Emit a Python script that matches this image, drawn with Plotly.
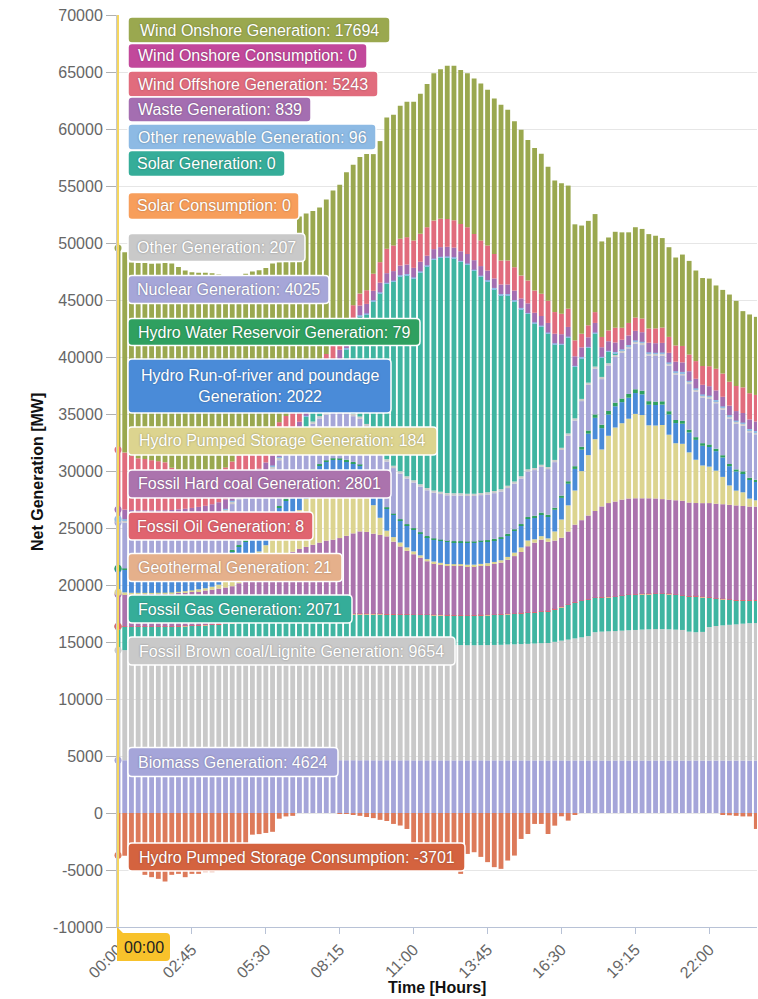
import plotly.graph_objects as go

# quarter-hour categories
times = [
    "00:00", "00:15", "00:30", "00:45", "01:00", "01:15", "01:30", "01:45",
    "02:00", "02:15", "02:30", "02:45", "03:00", "03:15", "03:30", "03:45",
    "04:00", "04:15", "04:30", "04:45", "05:00", "05:15", "05:30", "05:45",
    "06:00", "06:15", "06:30", "06:45", "07:00", "07:15", "07:30", "07:45",
    "08:00", "08:15", "08:30", "08:45", "09:00", "09:15", "09:30", "09:45",
    "10:00", "10:15", "10:30", "10:45", "11:00", "11:15", "11:30", "11:45",
    "12:00", "12:15", "12:30", "12:45", "13:00", "13:15", "13:30", "13:45",
    "14:00", "14:15", "14:30", "14:45", "15:00", "15:15", "15:30", "15:45",
    "16:00", "16:15", "16:30", "16:45", "17:00", "17:15", "17:30", "17:45",
    "18:00", "18:15", "18:30", "18:45", "19:00", "19:15", "19:30", "19:45",
    "20:00", "20:15", "20:30", "20:45", "21:00", "21:15", "21:30", "21:45",
    "22:00", "22:15", "22:30", "22:45", "23:00", "23:15", "23:30", "23:45",
]
tick_labels = ["00:00", "02:45", "05:30", "08:15", "11:00", "13:45", "16:30", "19:15", "22:00"]
y_ticks = [-10000, -5000, 0, 5000, 10000, 15000, 20000, 25000, 30000, 35000,
           40000, 45000, 50000, 55000, 60000, 65000, 70000]
y_tick_text = ["-10000", "-5000", "0", "5000", "10000", "15000", "20000", "25000", "30000",
               "35000", "40000", "45000", "50000", "55000", "60000", "65000", "70000"]

biomass = [
    4624, 4626, 4621, 4623, 4620, 4618, 4622, 4619, 4617, 4621, 4616, 4618, 4620, 4615, 4617, 4619,
    4622, 4625, 4628, 4624, 4627, 4630, 4626, 4629, 4631, 4628, 4632, 4630, 4627, 4629, 4633, 4631,
    4628, 4630, 4626, 4629, 4625, 4627, 4624, 4622, 4626, 4623, 4621, 4625, 4620, 4622, 4619, 4621,
    4618, 4620, 4617, 4619, 4616, 4618, 4621, 4617, 4619, 4615, 4618, 4616, 4614, 4617, 4613, 4615,
    4612, 4616, 4614, 4611, 4613, 4610, 4614, 4612, 4609, 4611, 4608, 4612, 4610, 4607, 4609, 4606,
    4610, 4608, 4605, 4607, 4604, 4608, 4606, 4603, 4605, 4602, 4606, 4604, 4601, 4603, 4600, 4602,
]
brown_coal = [
    9654, 9662, 9668, 9681, 9690, 9697, 9703, 9711, 9699, 9722, 9728, 9743, 9751, 9758, 9772, 9779,
    9802, 9818, 9843, 9857, 9884, 9898, 9921, 9942, 9958, 9983, 9997, 10024, 10038, 10062, 10079, 10103,
    10118, 10142, 10149, 10163, 10168, 10172, 10170, 10167, 10162, 10158, 10151, 10148, 10142, 10139, 10132, 10128,
    10121, 10118, 10112, 10109, 10101, 10098, 10103, 10111, 10122, 10138, 10161, 10179, 10203, 10218, 10252, 10279,
    10302, 10398, 10503, 10597, 10702, 10798, 10903, 11248, 11302, 11328, 11352, 11379, 11421, 11448, 11482, 11499,
    11521, 11518, 11502, 11479, 11452, 11298, 11251, 11282, 11698, 11802, 11848, 11903, 11948, 12002, 12048, 12061,
]
fossil_gas = [
    2071, 2062, 2048, 2041, 2033, 2028, 2021, 2019, 2032, 2038, 2052, 2061, 2079, 2102, 2118, 2151,
    2178, 2222, 2258, 2303, 2338, 2381, 2419, 2462, 2498, 2531, 2558, 2582, 2601, 2609, 2622, 2628,
    2641, 2638, 2642, 2651, 2648, 2652, 2649, 2651, 2638, 2642, 2628, 2631, 2619, 2622, 2618, 2611,
    2608, 2602, 2598, 2601, 2599, 2612, 2618, 2632, 2639, 2652, 2658, 2681, 2698, 2722, 2739, 2761,
    2778, 2852, 2948, 3052, 3148, 3202, 3198, 3002, 2998, 3003, 2997, 3052, 3098, 3102, 3099, 3101,
    3102, 3098, 3101, 3048, 3002, 3099, 3152, 3048, 2602, 2398, 2302, 2198, 2102, 2048, 2002, 1998,
]
geothermal = [
    21, 21, 20, 21, 22, 21, 21, 20, 21, 21, 22, 21, 20, 21, 21, 22,
    21, 20, 21, 21, 22, 21, 20, 21, 21, 21, 22, 21, 20, 21, 21, 22,
    21, 21, 20, 21, 21, 22, 21, 20, 21, 21, 21, 22, 21, 20, 21, 21,
    22, 21, 21, 20, 21, 21, 22, 21, 20, 21, 21, 21, 22, 21, 20, 21,
    21, 22, 21, 21, 20, 21, 21, 22, 21, 20, 21, 21, 22, 21, 21, 20,
    21, 21, 22, 21, 20, 21, 21, 22, 21, 21, 20, 21, 22, 21, 21, 20,
]
fossil_oil = [
    8, 8, 8, 7, 8, 8, 9, 8, 8, 8, 7, 8, 8, 8, 9, 8,
    8, 7, 8, 8, 8, 9, 8, 8, 8, 7, 8, 8, 9, 8, 8, 8,
    7, 8, 8, 8, 9, 8, 8, 7, 8, 8, 8, 9, 8, 8, 8, 7,
    8, 8, 9, 8, 8, 8, 7, 8, 8, 8, 9, 8, 8, 7, 8, 8,
    8, 9, 8, 8, 7, 8, 8, 8, 9, 8, 8, 8, 7, 8, 8, 9,
    8, 8, 8, 7, 8, 8, 9, 8, 8, 8, 7, 8, 8, 8, 9, 8,
]
hard_coal = [
    2801, 2812, 2818, 2831, 2842, 2849, 2861, 2868, 2882, 2899, 2921, 2948, 2982, 3011, 3048, 3102,
    3149, 3202, 3398, 3701, 3998, 4302, 4598, 4901, 5198, 5452, 5698, 5902, 6048, 6201, 6352, 6498,
    6561, 6679, 6872, 7058, 7231, 7178, 7032, 6928, 6812, 6348, 5951, 5562, 5288, 4991, 4688, 4512,
    4418, 4332, 4338, 4342, 4301, 4288, 4331, 4362, 4438, 4532, 4748, 5031, 5352, 5818, 6082, 6298,
    6071, 5998, 6052, 6398, 6802, 7048, 7352, 7598, 7951, 8218, 8332, 8418, 8431, 8422, 8388, 8371,
    8329, 8282, 8248, 8271, 8302, 8198, 8151, 8219, 8252, 8298, 8302, 8299, 8301, 8248, 8202, 8188,
]
pumped_gen = [
    184, 162, 131, 108, 96, 84, 81, 79, 86, 94, 112, 129, 161, 198, 262, 348,
    502, 1098, 1252, 1301, 1498, 1702, 1898, 2101, 2498, 2802, 3098, 3402, 4198, 4502, 4798, 4951,
    5048, 4902, 4598, 4201, 3798, 3202, 2498, 1502, 498, 402, 348, 301, 252, 198, 182, 158,
    151, 139, 131, 128, 132, 141, 149, 162, 178, 202, 248, 302, 398, 502, 298, 302,
    298, 802, 1598, 2302, 2998, 4302, 5298, 6302, 4998, 5902, 6498, 6702, 6998, 7402, 7298, 6402,
    6398, 6502, 5698, 5002, 4998, 4402, 3798, 3302, 3198, 2902, 2398, 1702, 1298, 1202, 698, 552,
]
run_of_river = [
    2022, 2019, 2018, 2014, 2013, 2009, 2011, 2007, 2005, 2004, 2001, 1999, 1998, 1994, 1996, 1991,
    1989, 1988, 1986, 1984, 1982, 1981, 1979, 1978, 1976, 1974, 1972, 1971, 1969, 1968, 1966, 1964,
    1961, 1959, 1960, 1957, 1956, 1954, 1951, 1949, 1950, 1947, 1946, 1944, 1941, 1939, 1940, 1937,
    1936, 1934, 1931, 1929, 1930, 1927, 1926, 1924, 1921, 1919, 1920, 1917, 1916, 1914, 1911, 1909,
    1904, 1901, 1899, 1894, 1891, 1884, 1881, 1874, 1871, 1864, 1861, 1849, 1841, 1829, 1821, 1809,
    1801, 1789, 1781, 1769, 1761, 1749, 1741, 1729, 1721, 1709, 1701, 1689, 1681, 1669, 1661, 1649,
]
water_reservoir = [
    79, 78, 76, 75, 74, 72, 73, 70, 71, 72, 74, 77, 78, 81, 85, 90,
    96, 101, 109, 116, 119, 126, 131, 134, 141, 139, 142, 138, 136, 129, 126, 119,
    121, 114, 116, 109, 111, 104, 106, 99, 101, 98, 96, 94, 95, 91, 89, 90,
    91, 89, 90, 88, 96, 94, 101, 99, 106, 109, 116, 121, 129, 141, 149, 161,
    171, 179, 201, 219, 241, 259, 281, 299, 302, 309, 321, 318, 331, 329, 321, 309,
    301, 289, 281, 269, 261, 249, 241, 229, 221, 209, 201, 189, 181, 169, 161, 149,
]
nuclear = [
    4025, 4025, 4024, 4024, 4023, 4023, 4022, 4022, 4021, 4021, 4020, 4020, 4020, 4019, 4019, 4018,
    4018, 4017, 4017, 4016, 4016, 4015, 4015, 4014, 4014, 4013, 4013, 4012, 4012, 4011, 4011, 4010,
    4010, 4011, 4009, 4010, 4010, 4012, 4009, 4010, 4011, 4010, 4009, 4010, 4008, 4010, 4011, 4009,
    4006, 4005, 4004, 4006, 4005, 4004, 4005, 4006, 4004, 4005, 4005, 4006, 4004, 4005, 4006, 4004,
    4001, 4000, 3999, 4001, 4000, 3999, 4000, 4001, 3999, 4000, 4001, 4000, 3999, 4000, 4001, 3999,
    3996, 3995, 3994, 3996, 3995, 3994, 3995, 3996, 3994, 3995, 3996, 3995, 3994, 3995, 3996, 3994,
]
other_gen = [
    207, 206, 206, 205, 205, 205, 204, 204, 204, 203, 203, 203, 202, 202, 202, 201,
    201, 201, 200, 200, 200, 199, 199, 199, 198, 198, 198, 197, 197, 197, 196, 196,
    196, 197, 196, 195, 196, 197, 196, 196, 195, 196, 197, 196, 196, 195, 196, 196,
    195, 194, 195, 196, 195, 194, 195, 195, 196, 195, 194, 195, 195, 196, 195, 194,
    193, 194, 193, 192, 193, 194, 193, 193, 192, 193, 194, 193, 193, 192, 193, 193,
    190, 191, 190, 189, 190, 191, 190, 190, 189, 190, 191, 190, 190, 189, 190, 190,
]
solar_cons = [0] * 96
solar = [
    0, 0, 0, 0, 0, 0, 0, 0, 0, 0, 0, 0, 0, 0, 0, 0,
    0, 0, 0, 0, 0, 0, 0, 0, 10, 50, 200, 500, 900, 1400, 2000, 2700,
    3500, 4400, 5500, 7508, 8801, 9596, 11611, 13436, 15396, 16148, 17106, 17636, 17696, 18586, 19446, 20243,
    20527, 20667, 20612, 20297, 20097, 19554, 18962, 18512, 17712, 17032, 16727, 15814, 14667, 13612, 12672, 12112,
    11694, 10139, 9029, 8404, 4514, 3584, 3049, 2894, 1669, 994, 150, 30, 0, 0, 0, 0,
    0, 0, 0, 0, 0, 0, 0, 0, 0, 0, 0, 0, 0, 0, 0, 0,
]
other_renew = [
    96, 95, 97, 96, 94, 95, 96, 97, 95, 96, 94, 96, 95, 97, 96, 95,
    94, 96, 95, 97, 96, 95, 94, 96, 97, 95, 96, 94, 95, 96, 97, 96,
    95, 94, 96, 95, 97, 96, 95, 94, 96, 95, 97, 96, 95, 94, 96, 95,
    97, 96, 95, 94, 96, 95, 97, 96, 95, 94, 96, 95, 97, 96, 95, 94,
    96, 95, 97, 96, 95, 94, 96, 95, 97, 96, 95, 94, 96, 95, 97, 96,
    95, 94, 96, 95, 97, 96, 95, 94, 96, 95, 97, 96, 95, 94, 96, 95,
]
waste = [
    839, 838, 840, 837, 839, 841, 838, 836, 839, 840, 838, 837, 839, 841, 840, 838,
    837, 839, 840, 838, 836, 839, 841, 839, 838, 837, 839, 840, 838, 836, 839, 841,
    839, 838, 837, 839, 840, 838, 836, 839, 841, 839, 838, 837, 839, 840, 838, 836,
    839, 841, 839, 838, 837, 839, 840, 838, 836, 839, 841, 839, 838, 837, 839, 840,
    838, 836, 839, 841, 839, 838, 837, 839, 840, 838, 836, 839, 841, 839, 838, 837,
    839, 840, 838, 836, 839, 841, 839, 838, 837, 839, 840, 838, 836, 839, 841, 839,
]
wind_offshore = [
    5243, 5000, 4750, 4550, 4500, 4400, 4300, 4200, 3700, 3500, 3350, 3200, 3100, 3000, 2950, 2900,
    2800, 2600, 2700, 2700, 2600, 2500, 2400, 2300, 2200, 2100, 2000, 1900, 1800, 1700, 1600, 1500,
    1400, 1300, 1200, 1100, 1050, 1200, 1500, 1800, 2150, 2250, 2350, 2400, 2400, 2450, 2500, 2500,
    2480, 2450, 2400, 2400, 2350, 2300, 2250, 2200, 2150, 2100, 2100, 2050, 2000, 2000, 1950, 1950,
    1950, 1900, 1800, 1600, 1400, 1200, 1050, 950, 900, 950, 1300, 1050, 1100, 1170, 1200, 1250,
    1300, 1350, 1400, 1420, 1440, 1460, 1550, 1650, 1750, 1900, 2040, 2100, 2200, 2250, 2300, 2330,
]
wind_on_cons = [0] * 96
wind_onshore = [
    17694, 17568, 16968, 17133, 17193, 17237, 17344, 17478, 17917, 17746, 17555, 17483, 17444, 17446, 17311, 17083,
    16828, 16216, 15750, 15536, 15274, 14913, 14648, 14586, 14015, 13576, 13029, 16093, 15108, 14436, 13764, 13541,
    13456, 13171, 13371, 12310, 11990, 11950, 10490, 10620, 11500, 11460, 11680, 11890, 12175, 12290, 12560, 12925,
    13130, 13430, 13550, 13510, 13510, 13640, 13775, 13660, 13640, 13675, 13225, 12810, 12790, 12325, 12500, 12290,
    11750, 11550, 11440, 10800, 10175, 9490, 9160, 8600, 8380, 8150, 8409, 8369, 7949, 7919, 7859, 8279,
    8127, 7847, 7867, 7717, 8017, 8217, 7947, 7717, 7687, 7307, 7337, 7647, 7467, 6687, 6907, 6847,
]
pumped_cons = [
    -3701, -3750, -4400, -4800, -5425, -5630, -5775, -6010, -5425, -5340, -5630, -5340, -5340, -5190, -5190, -4700,
    -4400, -4000, -3600, -3100, -1900, -1850, -1750, -1650, -500, -300, -250, 0, 0, 0, 0, 0,
    0, -50, -80, -150, -250, -350, -450, -600, -700, -960, -1100, -1400, -2600, -2800, -3000, -3300,
    -3600, -3900, -4200, -5340, -3590, -3440, -3850, -4310, -4750, -4900, -4170, -3735, -2275, -1840, -960, -960,
    -1840, -1110, -290, -670, -150, 0, 0, 0, 0, 0, 0, 0, 0, 0, 0, 0,
    0, 0, 0, 0, 0, 0, 0, 0, 0, 0, -150, -200, -250, -300, -300, -1400,
]

# stack order, bottom to top
series = [
    ("Biomass Generation", biomass, "#a5a5d9"),
    ("Fossil Brown coal/Lignite Generation", brown_coal, "#c9c9c9"),
    ("Fossil Gas Generation", fossil_gas, "#3fb5a1"),
    ("Geothermal Generation", geothermal, "#e5b08b"),
    ("Fossil Oil Generation", fossil_oil, "#e0646f"),
    ("Fossil Hard coal Generation", hard_coal, "#ab73ad"),
    ("Hydro Pumped Storage Generation", pumped_gen, "#dcd48f"),
    ("Hydro Run-of-river and poundage Generation", run_of_river, "#4a8bd8"),
    ("Hydro Water Reservoir Generation", water_reservoir, "#2fa060"),
    ("Nuclear Generation", nuclear, "#a6a6d8"),
    ("Other Generation", other_gen, "#c9c9c9"),
    ("Solar Consumption", solar_cons, "#f79e5b"),
    ("Solar Generation", solar, "#3fb5a1"),
    ("Other renewable Generation", other_renew, "#8dbae4"),
    ("Waste Generation", waste, "#a46eb1"),
    ("Wind Offshore Generation", wind_offshore, "#e16c7d"),
    ("Wind Onshore Consumption", wind_on_cons, "#c2489b"),
    ("Wind Onshore Generation", wind_onshore, "#9aa84f"),
    ("Hydro Pumped Storage Consumption", pumped_cons, "#dd7a5a"),
]

fig = go.Figure()
for name, vals, color in series:
    fig.add_trace(go.Bar(x=times, y=vals, name=name,
                         marker=dict(color=color, line=dict(width=0))))

# hover dots of the shared tooltip at 00:00 (top of each stacked segment)
dot_y, dot_c, run = [], [], 0
for name, vals, color in series:
    if vals[0] < 0:
        dot_y.append(vals[0])
    else:
        run += vals[0]
        if vals[0] == 0:
            continue
        dot_y.append(run)
    dot_c.append(color)
fig.add_trace(go.Scatter(x=[times[0]] * len(dot_y), y=dot_y, mode="markers",
                         cliponaxis=False, hoverinfo="skip",
                         marker=dict(size=7, color=dot_c, line=dict(width=0))))

# plot box in pixels
PL, PR, PT, PB = 117, 757, 15, 927
W, H = 758, 999


def py(ypix):
    return (PB - ypix) / (PB - PT)


def px_(xpix):
    return (xpix - PL) / (PR - PL)


def rounded_box(x0, x1, y0, y1, r=4):
    # rounded rectangle path in paper coords from pixel corners
    X = [px_(v) for v in (x0, x0 + r, x1 - r, x1)]
    Y = [py(v) for v in (y0, y0 + r, y1 - r, y1)]
    return (f"M{X[1]},{Y[0]} L{X[2]},{Y[0]} Q{X[3]},{Y[0]} {X[3]},{Y[1]} "
            f"L{X[3]},{Y[2]} Q{X[3]},{Y[3]} {X[2]},{Y[3]} L{X[1]},{Y[3]} "
            f"Q{X[0]},{Y[3]} {X[0]},{Y[2]} L{X[0]},{Y[1]} Q{X[0]},{Y[0]} {X[1]},{Y[0]} Z")


# tooltip labels, top to bottom: (center y px, box width px, box height px)
tip_order = [17, 16, 15, 14, 13, 12, 11, 10, 9, 8, 7, 6, 5, 4, 3, 2, 1, 0, 18]
tip_boxes = [
    (30, 262, 26), (56, 239, 25), (84, 250, 26), (109.5, 183, 25), (137, 248, 26),
    (163.5, 157, 26), (206, 171, 27), (247.5, 177, 28), (289.5, 201, 28), (332, 292, 27),
    (386, 263, 54), (441, 309, 28), (484, 263, 28), (526, 185, 28), (567.5, 214, 28),
    (609, 224, 28), (651, 327, 28), (762, 210, 29), (857, 337, 28),
]
label_colors = {"Hydro Pumped Storage Consumption": "#d4633f",
                "Fossil Gas Generation": "#35ad99", "Solar Generation": "#35ad99"}
LX = 128

shapes = [dict(type="line", xref="x", yref="paper", x0=0, x1=0, y0=0, y1=1,
               line=dict(color="#f5d65e", width=2), layer="above")]
annotations = []
for idx, (yc, bw, bh) in zip(tip_order, tip_boxes):
    name, vals, color = series[idx]
    text = f"{name}: {vals[0]}"
    if name.startswith("Hydro Run-of-river"):
        text = f"Hydro Run-of-river and poundage<br>Generation: {vals[0]}"
    shapes.append(dict(type="path", xref="paper", yref="paper", layer="above",
                       path=rounded_box(LX, LX + bw, yc - bh / 2, yc + bh / 2),
                       fillcolor=label_colors.get(name, color),
                       line=dict(color="white", width=1.5)))
    annotations.append(dict(
        xref="paper", yref="paper", x=px_(LX + bw / 2), y=py(yc),
        xanchor="center", yanchor="middle", showarrow=False,
        text=text, align="center",
        font=dict(family="Liberation Sans, Arial", size=16, color="white",
                  shadow="0px 0px 2px rgba(0,0,0,0.35)"),
    ))

# crosshair label on x axis (yellow callout)
cx = [px_(v) for v in (117, 123, 166, 170)]
cy = [py(v) for v in (927, 933, 937, 957, 961)]
shapes.append(dict(
    type="path", xref="paper", yref="paper", layer="above",
    path=(f"M{cx[0]},{cy[0]} L{cx[1]},{cy[1]} L{cx[2]},{cy[1]} Q{cx[3]},{cy[1]} {cx[3]},{cy[2]} "
          f"L{cx[3]},{cy[3]} Q{cx[3]},{cy[4]} {cx[2]},{cy[4]} L{cx[0]},{cy[4]} Z"),
    fillcolor="#f8c22b", line=dict(width=0)))
annotations.append(dict(
    xref="paper", yref="paper", x=px_(144), y=py(947), xanchor="center", yanchor="middle",
    showarrow=False, text="00:00",
    font=dict(family="Liberation Sans, Arial", size=16, color="#222"),
))
# axis titles
annotations.append(dict(
    xref="paper", yref="paper", x=px_(437), y=py(987), xanchor="center", yanchor="middle",
    showarrow=False, text="<b>Time [Hours]</b>",
    font=dict(family="Liberation Sans, Arial", size=16, color="#111"),
))
annotations.append(dict(
    xref="paper", yref="paper", x=px_(37), y=py(472), xanchor="center", yanchor="middle",
    showarrow=False, text="<b>Net Generation [MW]</b>", textangle=-90,
    font=dict(family="Liberation Sans, Arial", size=16, color="#111"),
))

fig.update_layout(
    width=W, height=H,
    margin=dict(l=PL, r=W - PR, t=PT, b=H - PB),
    paper_bgcolor="white", plot_bgcolor="white",
    barmode="relative", bargap=0.28, showlegend=False,
    font=dict(family="Liberation Sans, Arial", size=16, color="#666"),
    annotations=annotations, shapes=shapes,
)
fig.update_xaxes(
    type="category", range=[-0.15, 95.1], automargin=False,
    tickmode="array", tickvals=tick_labels, ticktext=tick_labels, tickangle=-45,
    ticks="outside", ticklen=6, tickcolor="#b8c2d6",
    showline=True, linecolor="#b8c2d6", showgrid=False,
    tickfont=dict(size=16, color="#666"),
)
fig.update_yaxes(
    range=[-10000, 70000], automargin=False,
    tickmode="array", tickvals=y_ticks, ticktext=y_tick_text,
    gridcolor="#e6e6e6", zeroline=False,
    ticks="outside", ticklen=10, tickcolor="#b0b0b0",
    showline=True, linecolor="#c8c8c8",
    tickfont=dict(size=16, color="#666"),
)

# the page's default body margin would shift the figure by 8px
fig.write_html("out.html", config={"displayModeBar": False},
               post_script="document.body.style.margin='0';")
